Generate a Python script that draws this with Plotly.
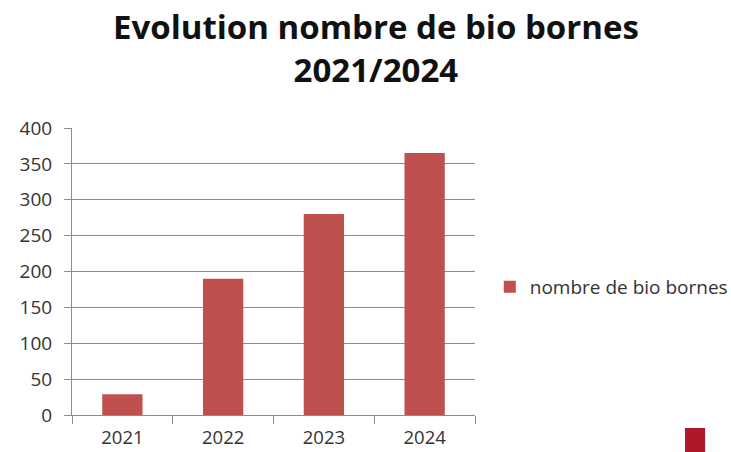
import plotly.graph_objects as go

years = ["2021", "2022", "2023", "2024"]
bornes = [29, 190, 280, 365]
series_name = "nombre de bio bornes"
title_lines = ["Evolution nombre de bio bornes", "2021/2024"]
y_ticks = [0, 50, 100, 150, 200, 250, 300, 350, 400]

BAR = "#C0504D"
GRID = "#8C8C8C"
FONT = "Open Sans"

fig = go.Figure()
fig.add_trace(go.Bar(
    x=years, y=bornes, name=series_name,
    marker=dict(color=BAR, line=dict(width=0)),
    showlegend=True,
))

fig.update_layout(
    width=731, height=452,
    margin=dict(l=72, r=256, t=128, b=37, autoexpand=False),
    paper_bgcolor="white", plot_bgcolor="white",
    bargap=0.6,
    showlegend=True,
    font=dict(family=FONT, color="#404040"),
    legend=dict(
        xref="container", yref="container",
        x=0.670, xanchor="left", y=0.365, yanchor="middle",
        font=dict(family=FONT, size=19, color="#333333"),
        bgcolor="rgba(0,0,0,0)",
    ),
    xaxis=dict(
        type="category", automargin=False,
        showline=True, linecolor=GRID, linewidth=1,
        ticks="outside", ticklen=8, tickcolor=GRID, tickwidth=1,
        tickson="boundaries", ticklabelstandoff=6,
        showgrid=False,
        tickfont=dict(family=FONT, size=18.5, color="#333333"),
    ),
    yaxis=dict(
        range=[0, 400], tickvals=y_ticks, automargin=False,
        showline=True, linecolor=GRID, linewidth=1,
        ticks="outside", ticklen=7, tickcolor=GRID, tickwidth=1,
        ticklabelstandoff=8,
        showgrid=True, gridcolor=GRID, gridwidth=1,
        zeroline=False,
        tickfont=dict(family=FONT, size=19, color="#333333"),
    ),
    annotations=[dict(
        text="<br>".join(title_lines), showarrow=False,
        xref="paper", yref="paper", x=0.754, y=1.44,
        xanchor="center", yanchor="top", align="center",
        font=dict(family=FONT, size=33, color="#111111", weight="bold"),
    )],
    shapes=[dict(
        type="rect", xref="paper", yref="paper",
        x0=1.521, x1=1.571, y0=-0.13, y1=-0.0453,
        fillcolor="#B0182A", line=dict(width=0), layer="above",
    )],
)

fig.write_html("out.html", config={"displayModeBar": False},
               post_script="document.body.style.margin='0';")
